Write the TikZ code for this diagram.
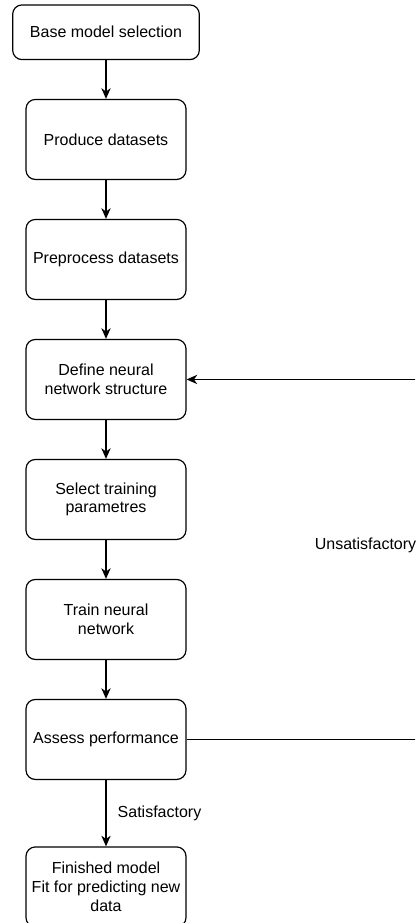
\documentclass[tikz,border=0pt]{standalone}
\usepackage{fontspec}
\setmainfont{Liberation Sans}
\usepackage{tikz}
\usetikzlibrary{positioning, arrows.meta}
\tikzstyle{stage} = [draw, rectangle, rounded corners=7pt,
    minimum height=60pt, minimum width=120pt, inner sep=2pt,
    align=center, font=\fontsize{12}{14}\selectfont]
\tikzstyle{firststage} = [stage, minimum height=41pt, minimum width=140pt]
\tikzstyle{edgelabel} = [font=\fontsize{12}{14}\selectfont]

\begin{document}
\begin{tikzpicture}[node distance=90pt, line width=0.9pt,
        >={Stealth[length=8pt, width=7pt, inset=2.5pt]}]
        \useasboundingbox (0,0) rectangle (311.25pt,-692.25pt);
        \clip (0,0) rectangle (311.25pt,-692.25pt);

        \node[
            firststage
        ] (base) at (79.5pt,-24.2pt) {Base model selection};

        \node[
            stage,
            below of=base,
            node distance=80.4pt
        ] (produce) {Produce datasets};

        \node[
            stage,
            below of=produce
        ] (preprocess) {Preprocess datasets};

        \node[
            stage,
            below of=preprocess
        ] (define) {Define neural\\network structure};

        \node[
            stage,
            below of=define
        ] (select) {Select training\\parametres};

        \node[
            stage,
            below of=select
        ] (train) {Train neural\\network};

        \node[
            stage,
            below of=train
        ] (assess) {Assess performance};

        \node[
            stage,
            below of=assess,
            node distance=110.6pt
        ] (finished) {Finished model\\Fit for predicting new\\data};

        % loop back, its far side lies past the right edge
        \coordinate[right=176pt of assess.east] (loopright);

        \draw[->] (base) -- (produce);
        \draw[->] (produce) -- (preprocess);
        \draw[->] (preprocess) -- (define);
        \draw[->] (define) -- (select);
        \draw[->] (select) -- (train);
        \draw[->] (train) -- (assess);
        \draw[->] (assess) -- node[edgelabel, right=5pt] (sat) {Satisfactory} (finished);
        \draw[->] (assess.east) -- (loopright)
            |- node[edgelabel, left, pos=0.27] (unsat) {Unsatisfactory} (define.east);
    \end{tikzpicture}
\end{document}
